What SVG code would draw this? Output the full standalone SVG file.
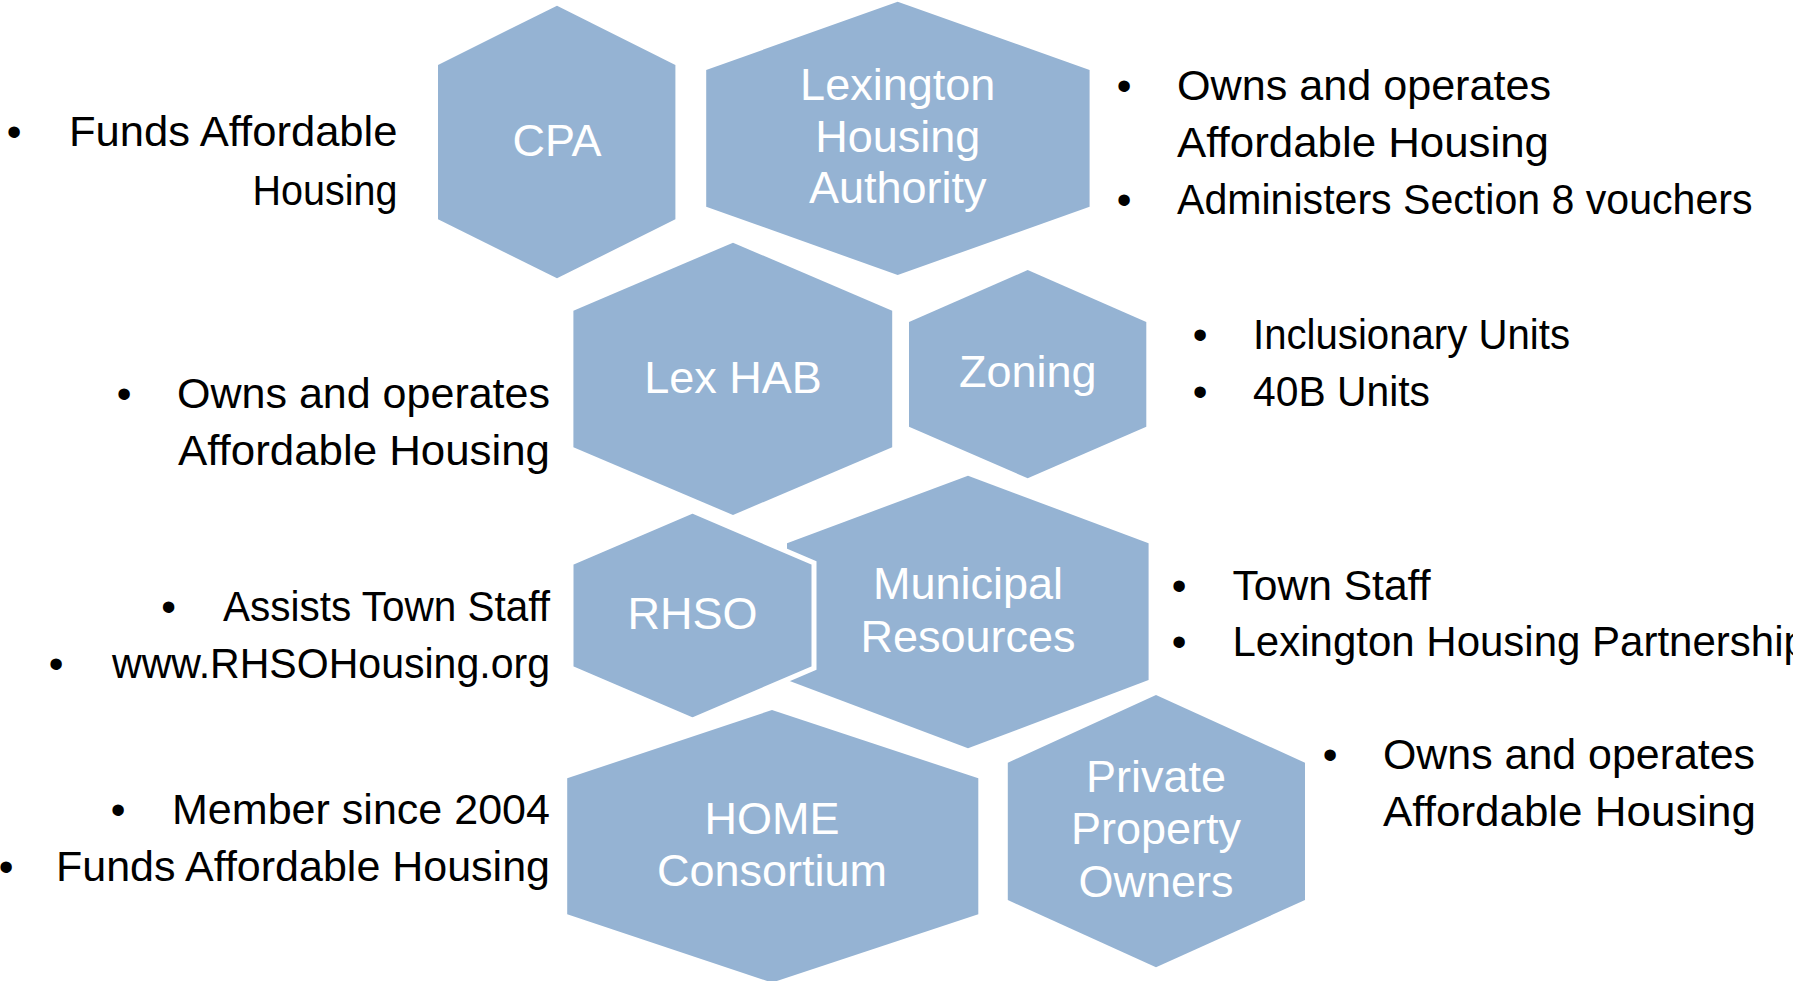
<svg xmlns="http://www.w3.org/2000/svg" width="1793" height="981" viewBox="0 0 1793 981">
  <style>
    .hex { fill: #95B3D3; }
    .hex-outlined { fill: #95B3D3; stroke: #FFFFFF; stroke-width: 5; stroke-linejoin: miter; }
    .label { font-family: "Liberation Sans", Arial, sans-serif; font-size: 45px; fill: #FFFFFF; text-anchor: middle; }
    .note { font-family: "Liberation Sans", Arial, sans-serif; font-size: 42px; fill: #000000; }
    .bullet { font-family: "Liberation Sans", Arial, sans-serif; font-size: 42px; fill: #000000; text-anchor: middle; }
  </style>
  <rect x="0" y="0" width="1793" height="981" fill="#FFFFFF"/>

  <!-- Row 1 -->
  <g id="node-cpa">
    <polygon class="hex" points="557,5.7 675.4,65 675.4,219.3 557,278.3 438,219.3 438,65"/>
    <text class="label" x="557" y="156">CPA</text>
  </g>
  <g id="node-lha">
    <polygon class="hex" points="897.7,1.7 1089.6,70 1089.6,206.7 897.7,275 706.2,206.7 706.2,70"/>
    <text class="label" x="897.7" y="100">Lexington</text>
    <text class="label" x="897.7" y="151.7">Housing</text>
    <text class="label" x="897.7" y="203.3">Authority</text>
  </g>

  <!-- Row 2 -->
  <g id="node-lexhab">
    <polygon class="hex" points="733,242.7 892.2,310.7 892.2,447.3 733,515 573.4,447.3 573.4,310.7"/>
    <text class="label" x="733" y="392.7">Lex HAB</text>
  </g>
  <g id="node-zoning">
    <polygon class="hex" points="1027.7,270 1146.3,322 1146.3,426.7 1027.7,478.3 909,426.7 909,322"/>
    <text class="label" x="1027.7" y="387.3">Zoning</text>
  </g>

  <!-- Row 3: Municipal Resources sits behind RHSO -->
  <g id="node-municipal">
    <polygon class="hex" points="968,475.7 1148.6,543.3 1148.6,680 968,748.3 787,680 787,543.3"/>
    <text class="label" x="968" y="599.3">Municipal</text>
    <text class="label" x="968" y="651.7">Resources</text>
  </g>
  <g id="node-rhso">
    <polygon class="hex-outlined" points="692.5,511 814,563 814,668 692.5,720 571,668 571,563"/>
    <text class="label" x="692.5" y="629.3">RHSO</text>
  </g>

  <!-- Row 4 -->
  <g id="node-home">
    <polygon class="hex" points="772,710 978.3,778.3 978.3,914.3 772,982.6 567.2,914.3 567.2,778.3"/>
    <text class="label" x="772" y="834">HOME</text>
    <text class="label" x="772" y="886">Consortium</text>
  </g>
  <g id="node-private">
    <polygon class="hex" points="1156,695 1305,762.7 1305,900 1156,967.3 1007.8,900 1007.8,762.7"/>
    <text class="label" x="1156" y="792.3">Private</text>
    <text class="label" x="1156" y="844.3">Property</text>
    <text class="label" x="1156" y="896.7">Owners</text>
  </g>

  <!-- Bullet notes beside each node -->
  <g id="connectors">
    <g id="notes-cpa">
      <text class="bullet" x="14" y="146">•</text>
      <text class="note" x="69" y="146" textLength="328.5" lengthAdjust="spacingAndGlyphs">Funds Affordable</text>
      <text class="note" x="252.5" y="205" textLength="145" lengthAdjust="spacingAndGlyphs">Housing</text>
    </g>
    <g id="notes-lha">
      <text class="bullet" x="1124" y="100">•</text>
      <text class="note" x="1177" y="100" textLength="374" lengthAdjust="spacingAndGlyphs">Owns and operates</text>
      <text class="note" x="1177" y="157" textLength="372" lengthAdjust="spacingAndGlyphs">Affordable Housing</text>
      <text class="bullet" x="1124" y="214">•</text>
      <text class="note" x="1177" y="214" textLength="575.5" lengthAdjust="spacingAndGlyphs">Administers Section 8 vouchers</text>
    </g>
    <g id="notes-lexhab">
      <text class="bullet" x="124" y="408">•</text>
      <text class="note" x="177" y="408" textLength="373" lengthAdjust="spacingAndGlyphs">Owns and operates</text>
      <text class="note" x="178" y="465" textLength="372" lengthAdjust="spacingAndGlyphs">Affordable Housing</text>
    </g>
    <g id="notes-zoning">
      <text class="bullet" x="1200" y="348.5">•</text>
      <text class="note" x="1253" y="348.5" textLength="317" lengthAdjust="spacingAndGlyphs">Inclusionary Units</text>
      <text class="bullet" x="1200" y="405.5">•</text>
      <text class="note" x="1253" y="405.5" textLength="177" lengthAdjust="spacingAndGlyphs">40B Units</text>
    </g>
    <g id="notes-rhso">
      <text class="bullet" x="168.5" y="621">•</text>
      <text class="note" x="223" y="621" textLength="327" lengthAdjust="spacingAndGlyphs">Assists Town Staff</text>
      <text class="bullet" x="56" y="678">•</text>
      <text class="note" x="112" y="678" textLength="438" lengthAdjust="spacingAndGlyphs">www.RHSOHousing.org</text>
    </g>
    <g id="notes-municipal">
      <text class="bullet" x="1179" y="599.5">•</text>
      <text class="note" x="1232.5" y="599.5" textLength="198" lengthAdjust="spacingAndGlyphs">Town Staff</text>
      <text class="bullet" x="1179" y="656">•</text>
      <text class="note" x="1232.5" y="656">Lexington Housing Partnership</text>
    </g>
    <g id="notes-home">
      <text class="bullet" x="118" y="824">•</text>
      <text class="note" x="172" y="824" textLength="378" lengthAdjust="spacingAndGlyphs">Member since 2004</text>
      <text class="bullet" x="6" y="881">•</text>
      <text class="note" x="56" y="881" textLength="494" lengthAdjust="spacingAndGlyphs">Funds Affordable Housing</text>
    </g>
    <g id="notes-private">
      <text class="bullet" x="1330" y="769">•</text>
      <text class="note" x="1383" y="769" textLength="372" lengthAdjust="spacingAndGlyphs">Owns and operates</text>
      <text class="note" x="1383" y="826" textLength="373" lengthAdjust="spacingAndGlyphs">Affordable Housing</text>
    </g>
  </g>
</svg>
